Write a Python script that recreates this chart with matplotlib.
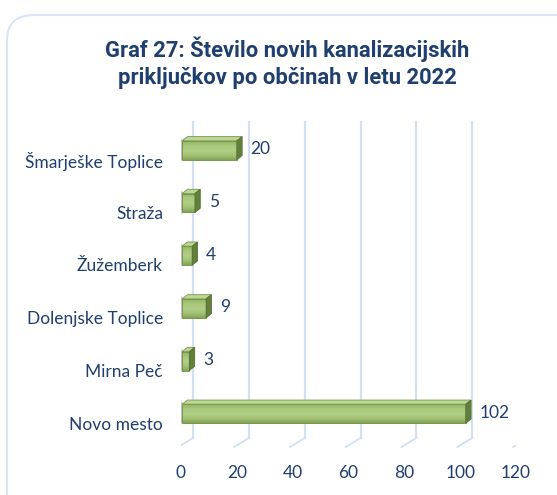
import numpy as np
import matplotlib
matplotlib.use("Agg")
from matplotlib import pyplot as plt
from matplotlib.patches import Polygon, FancyBboxPatch, Rectangle
from matplotlib import transforms

# data (bottom to top)
obcine = ["Novo mesto", "Mirna Peč", "Dolenjske Toplice", "Žužemberk", "Straža", "Šmarješke Toplice"]
prikljucki = [102, 3, 9, 4, 5, 20]
xticks = [0, 20, 40, 60, 80, 100, 120]

blue = "#1f3f6e"
grid_c = "#d3e0f2"

fig = plt.figure(figsize=(5.57, 4.95), dpi=100)

# rounded frame
frame = FancyBboxPatch((7 / 557, -0.2), 1.2, 1.2 - 15 / 495,
                       boxstyle="round,pad=0,rounding_size=0.05",
                       transform=fig.transFigure, fc="white", ec="#d9e5f4", lw=1.5,
                       zorder=-5)
fig.patches.append(frame)

fig.text(0.516, 0.873, "Graf 27: Število novih kanalizacijskih\npriključkov po občinah v letu 2022",
         ha="center", va="center", fontsize=15.8, fontweight="bold", color=blue,
         family="Roboto", linespacing=1.3)

ax = fig.add_axes([181 / 557, 47 / 495, 335 / 557, 333 / 495])
ax.set_xlim(0, 120)
ax.set_ylim(-0.72, 5.6)
for s in ax.spines.values():
    s.set_visible(False)
ax.patch.set_alpha(0)

yfront = -0.72
yback = -0.53
ytop = 5.46
off = 4.3
for t in xticks:
    ax.plot([t + off, t + off], [yback, ytop], color=grid_c, lw=1.6, zorder=1)
    ax.plot([t - 1, t + off], [yfront + 0.02, yback], color=grid_c, lw=1.3, zorder=1)
ax.plot([-1, -1], [yfront + 0.02, ytop - 0.2], color=grid_c, lw=1.3, zorder=1)

ypos = np.arange(len(obcine))
h = 0.36
dx = 1.9
dy = 0.08
grad = np.linspace(0, 1, 50).reshape(-1, 1)
cmap = matplotlib.colors.LinearSegmentedColormap.from_list(
    "g", ["#83a455", "#a5c378", "#b2cf86", "#aac77d", "#93b465"])
for y, v in zip(ypos, prikljucki):
    c = y - 0.07
    y0, y1 = c - h / 2, c + h / 2
    # shadow
    for k, a in enumerate([0.12, 0.2, 0.3]):
        ax.add_patch(Rectangle((-0.9 + 0.3 * k, y0 - 0.04 + 0.02 * k), 1.2, h + 0.1 - 0.04 * k,
                               fc="#888888", alpha=a, ec="none", zorder=2))
    im = ax.imshow(grad, extent=[0.4, v, y0, y1], aspect="auto", cmap=cmap,
                   origin="lower", zorder=3)
    r = Rectangle((0.4, y0), v - 0.4, h, fc="none", ec="#76964c", lw=0.7, zorder=4)
    ax.add_patch(r)
    im.set_clip_path(r)
    top = Polygon([[0.4, y1], [v, y1], [v + dx, y1 + dy], [0.4 + dx, y1 + dy]],
                  closed=True, fc="#bdd596", ec="#76964c", lw=0.6, zorder=4)
    side = Polygon([[v, y0], [v + dx, y0 + dy], [v + dx, y1 + dy], [v, y1]],
                   closed=True, fc="#62803a", ec="#557030", lw=0.6, zorder=4)
    ax.add_patch(top)
    ax.add_patch(side)
    ax.text(v + dx + 3, c + 0.02, str(v), ha="left", va="center", fontsize=12.5,
            color=blue, family="Lato")

ax.set_xlim(0, 120)
ax.set_ylim(-0.72, 5.6)
ax.set_xticks(xticks)
ax.set_yticks(ypos)
ax.set_yticklabels(obcine)
ax.tick_params(length=0, labelsize=12.5, labelcolor=blue)
ax.tick_params(axis="x", pad=12)
ax.tick_params(axis="y", pad=13)
for lbl in ax.get_xticklabels() + ax.get_yticklabels():
    lbl.set_family("Lato")
shift = transforms.ScaledTranslation(0, -13 / 100, fig.dpi_scale_trans)
for lbl in ax.get_yticklabels():
    lbl.set_transform(lbl.get_transform() + shift)

fig.savefig("out.png", dpi=100)
